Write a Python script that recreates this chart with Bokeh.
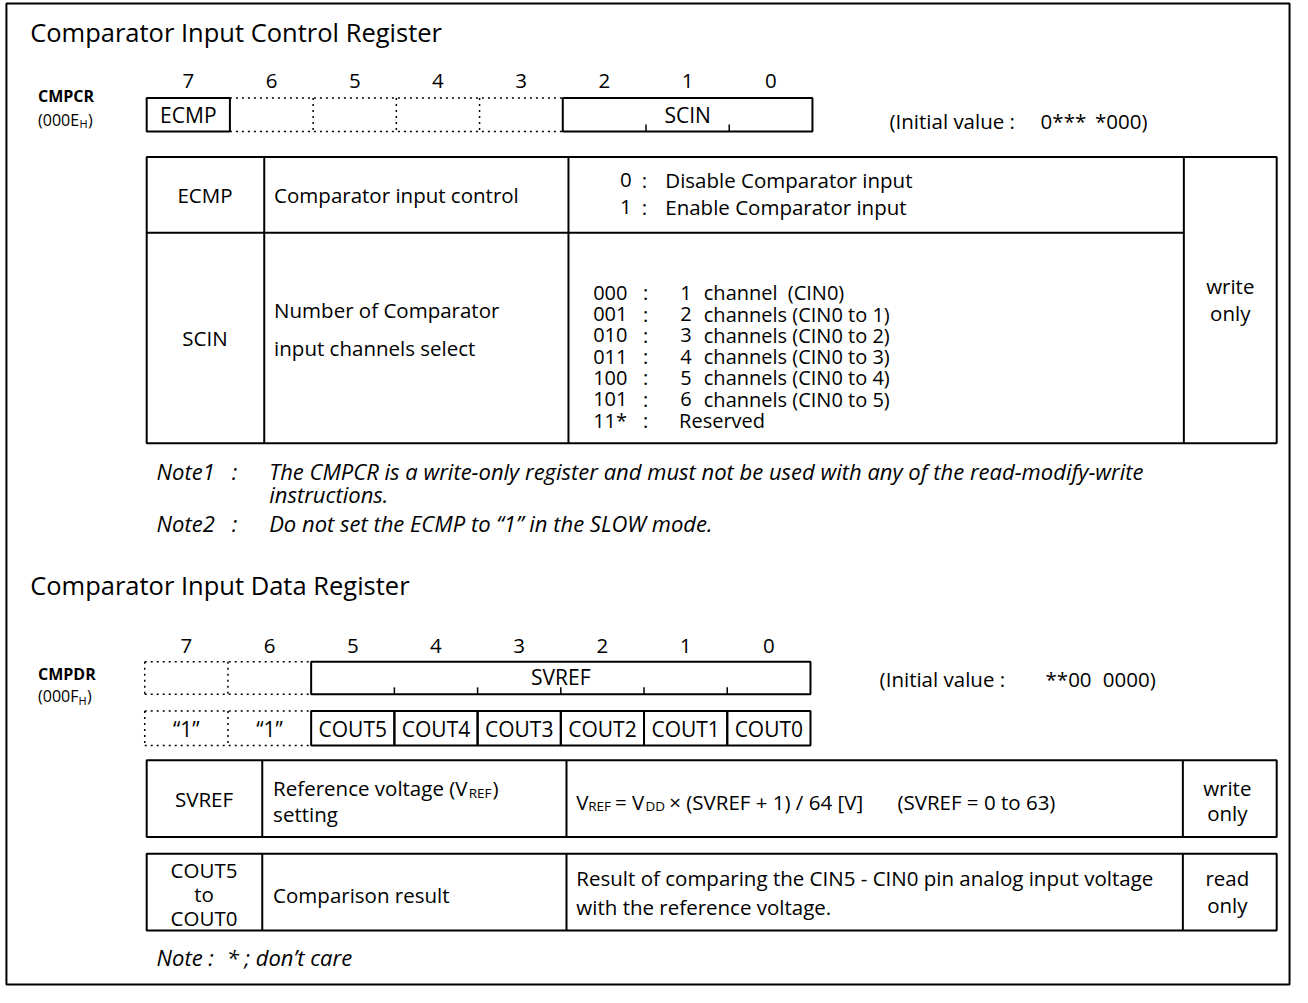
from bokeh.plotting import figure
from bokeh.models import Range1d, ColumnDataSource
from bokeh.core.properties import value
from bokeh.embed import file_html
from bokeh.resources import INLINE

FONT = "Open Sans"
BODY = "20.5px"
LIST = "20px"
CELL = "21px"
TITLE = "25.5px"
NOTE = "22px"
SUB = "13.5px"

# ---------------- content ----------------
title1 = "Comparator Input Control Register"
title2 = "Comparator Input Data Register"
bit_numbers = ["7", "6", "5", "4", "3", "2", "1", "0"]

reg1_name, reg1_addr = "CMPCR", "(000E"
reg2_name, reg2_addr = "CMPDR", "(000F"
addr_sub = "H"

reg1_solid_fields = ["ECMP", "SCIN"]
reg1_init = ["(Initial value :", "0***", "*000)"]

reg2_field = "SVREF"
reg2_out_fields = ["COUT5", "COUT4", "COUT3", "COUT2", "COUT1", "COUT0"]
reg2_fixed = ["\u201c1\u201d", "\u201c1\u201d"]
reg2_init = ["(Initial value :", "**00", "0000)"]

ecmp_codes = ["0", "1"]
ecmp_desc = ["Disable Comparator input", "Enable Comparator input"]
scin_codes = ["000", "001", "010", "011", "100", "101", "11*"]
scin_counts = ["1", "2", "3", "4", "5", "6"]
scin_desc = ["channel", "channels (CIN0 to 1)", "channels (CIN0 to 2)",
             "channels (CIN0 to 3)", "channels (CIN0 to 4)", "channels (CIN0 to 5)"]
scin_first_range = "(CIN0)"
scin_reserved = "Reserved"

notes1_labels = ["Note1", "Note2"]
notes1_text = ["The CMPCR is a write-only register and must not be used with any of the read-modify-write",
               "instructions.",
               "Do not set the ECMP to \u201c1\u201d in the SLOW mode."]
note2_label = "Note :"
note2_text = "* ; don\u2019t care"

# ---------------- figure ----------------
p = figure(width=1292, height=987, output_backend="svg", toolbar_location=None,
           x_range=Range1d(0, 1308), y_range=Range1d(1003, 0), min_border=0)
p.axis.visible = False
p.grid.visible = False
p.outline_line_color = None
p.background_fill_color = "white"
p.border_fill_color = "white"

def seg(x0, y0, x1, y1, width=2.0, dash="solid"):
    p.segment(x0=x0, y0=y0, x1=x1, y1=y1, line_color="black", line_width=width, line_dash=dash)

def box(l, t, r, b, width=2.0):
    p.quad(left=[l], right=[r], top=[t], bottom=[b], fill_color=None, line_color="black", line_width=width)

def text(xs, ys, ts, size=BODY, align="left", style="normal", baseline="middle"):
    src = ColumnDataSource(dict(x=list(xs), y=list(ys), t=list(ts)))
    p.text(x="x", y="y", text="t", source=src, text_font=value(FONT), text_font_size=size,
           text_align=align, text_baseline=baseline, text_font_style=style, text_color="black")

# outer frame
box(6, 3, 1305, 1000, 2)

# ---------- Register 1 ----------
text([30], [32], [title1], size=TITLE)
r1x0, bw = 148.0, 84.25
r1t, r1b = 99, 133
edges1 = [r1x0 + i * bw for i in range(9)]
text([(edges1[i] + edges1[i + 1]) / 2 for i in range(8)], [82] * 8, bit_numbers, align="center")
text([38], [97], [reg1_name], size="16px", style="bold")
text([38], [121], [reg1_addr], size="16px")
text([80], [125], [addr_sub], size="11px")
text([88.5], [121], [")"], size="16px")
box(edges1[0], r1t, edges1[1], r1b)
seg([edges1[1], edges1[1]], [r1t, r1b], [edges1[5], edges1[5]], [r1t, r1b], 1.5, "dotted")
seg(edges1[2:5], [r1t] * 3, edges1[2:5], [r1b] * 3, 1.5, "dotted")
box(edges1[5], r1t, edges1[8], r1b)
seg(edges1[6:8], [r1b - 7] * 2, edges1[6:8], [r1b] * 2, 1.5)
text([(edges1[0] + edges1[1]) / 2, (edges1[5] + edges1[8]) / 2], [116, 116], reg1_solid_fields,
     size=CELL, align="center")
text([900, 1053, 1108], [122, 122, 122], reg1_init)

# table 1
t1x = [148, 267, 575, 1198, 1292]
t1y = [159, 236, 450]
box(t1x[0], t1y[0], t1x[4], t1y[2])
seg([t1x[0]], [t1y[1]], [t1x[3]], [t1y[1]])
seg(t1x[1:4], [t1y[0]] * 3, t1x[1:4], [t1y[2]] * 3)
text([207, 207], [198, 343], reg1_solid_fields, align="center")
text([277], [198], ["Comparator input control"])
text([277, 277], [315, 353], ["Number of  Comparator", "input channels select"])
text([633, 633], [182, 210], ecmp_codes, align="center")
text([652, 652], [182, 210], [":", ":"], align="center")
text([673, 673], [182, 210], ecmp_desc)
sy = [297 + 21.6 * i for i in range(7)]
text([600] * 7, sy, scin_codes, size=LIST)
text([653] * 7, sy, [":"] * 7, size=LIST, align="center")
text([694] * 6, sy[:6], scin_counts, size=LIST, align="center")
text([712] * 6, sy[:6], scin_desc, size=LIST)
text([797], [sy[0]], [scin_first_range], size=LIST)
text([687], [sy[6]], [scin_reserved], size=LIST)
text([1245, 1245], [290, 318], ["write", "only"], align="center")

# notes
text([158, 158], [478, 531], notes1_labels, size=NOTE, style="italic")
text([237, 237], [478, 531], [":", ":"], size=NOTE, style="italic", align="center")
text([272, 272, 272], [478, 502, 531], notes1_text, size=NOTE, style="italic")

# ---------- Register 2 ----------
text([30], [594], [title2], size=TITLE)
r2x0 = 146.0
edges2 = [r2x0 + i * bw for i in range(9)]
ra_t, ra_b = 672, 705
rb_t, rb_b = 722, 757
text([(edges2[i] + edges2[i + 1]) / 2 for i in range(8)], [656] * 8, bit_numbers, align="center")
text([38], [684], [reg2_name], size="16px", style="bold")
text([38], [707], [reg2_addr], size="16px")
text([79], [711], [addr_sub], size="11px")
text([87.5], [707], [")"], size="16px")
for (t, b) in [(ra_t, ra_b), (rb_t, rb_b)]:
    seg([edges2[0], edges2[0]], [t, b], [edges2[2], edges2[2]], [t, b], 1.5, "dotted")
    seg(edges2[0:2], [t] * 2, edges2[0:2], [b] * 2, 1.5, "dotted")
box(edges2[2], ra_t, edges2[8], ra_b)
seg(edges2[3:8], [ra_b - 7] * 5, edges2[3:8], [ra_b] * 5, 1.5)
text([(edges2[2] + edges2[8]) / 2], [687], [reg2_field], size=CELL, align="center")
for i in range(6):
    box(edges2[2 + i], rb_t, edges2[3 + i], rb_b)
text([(edges2[i] + edges2[i + 1]) / 2 for i in range(2, 8)], [740] * 6, reg2_out_fields,
     size=CELL, align="center")
text([(edges2[i] + edges2[i + 1]) / 2 for i in range(0, 2)], [740] * 2, reg2_fixed,
     size=CELL, align="center")
text([890, 1058, 1116], [690, 690, 690], reg2_init)

# table 2
t2x = [148, 265, 573, 1197, 1292]
rows2 = [(772, 850), (867, 945)]
for (t, b) in rows2:
    box(t2x[0], t, t2x[4], b)
    seg(t2x[1:4], [t] * 3, t2x[1:4], [b] * 3)
text([206], [811], [reg2_field], align="center")
text([276], [800], ["Reference voltage (V"])
text([474], [805], ["REF"], size=SUB)
text([498], [800], [")"])
text([276], [827], ["setting"])
text([583], [814], ["V"])
text([595], [819], ["REF"], size=SUB)
text([622], [814], ["= V"])
text([653], [819], ["DD"], size=SUB)
text([677], [814], ["\u00d7 (SVREF + 1) / 64 [V]"])
text([908], [814], ["(SVREF = 0 to 63)"])
text([1242, 1242], [800, 826], ["write", "only"], align="center")
text([206, 206, 206], [884, 908, 932], ["COUT5", "to", "COUT0"], align="center")
text([276], [909], ["Comparison result"])
text([583, 583], [892, 921], ["Result of comparing the CIN5 - CIN0 pin analog input voltage",
                              "with the reference voltage."])
text([1242, 1242], [892, 919], ["read", "only"], align="center")
text([158], [972], [note2_label], size=NOTE, style="italic")
text([229], [972], [note2_text], size=NOTE, style="italic")

open("out.html", "w").write(file_html(p, INLINE))
